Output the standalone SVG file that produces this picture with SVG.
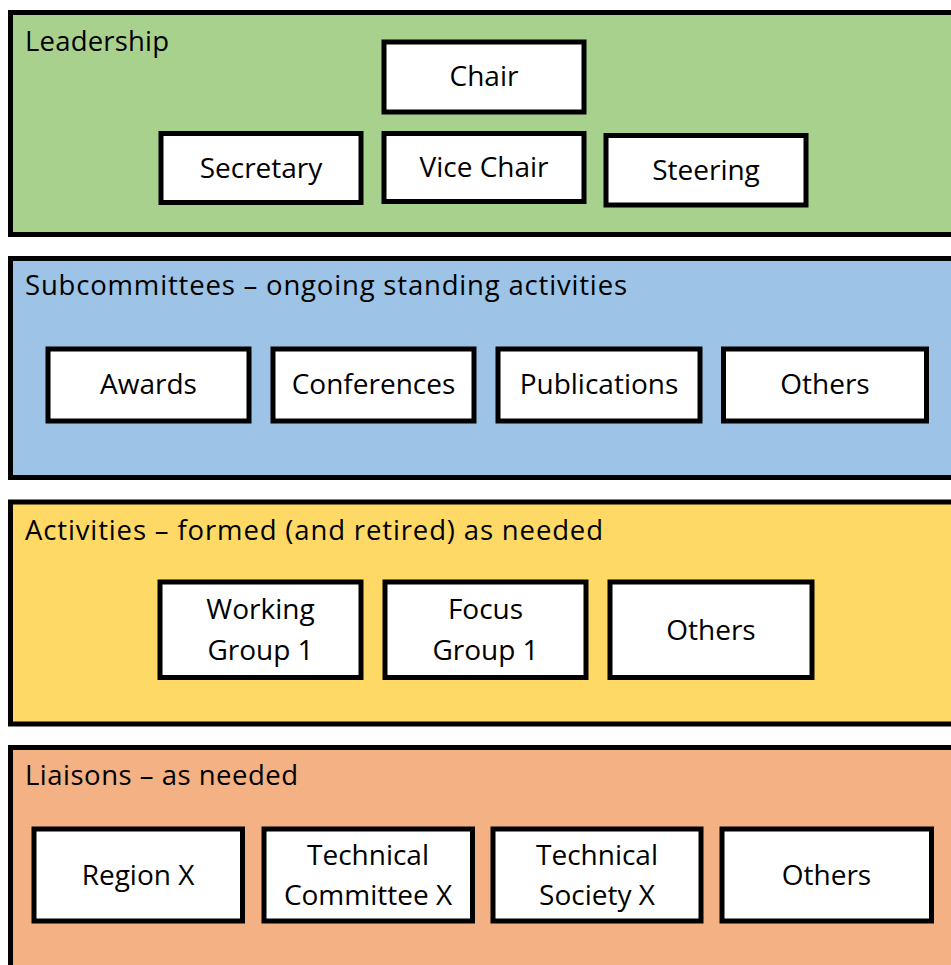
<svg xmlns="http://www.w3.org/2000/svg" width="951" height="965" viewBox="0 0 951 965">
  <style>
    .panel { stroke: #000; stroke-width: 5; }
    .box { fill: #fff; stroke: #000; stroke-width: 5; }
    text { font-family: "Open Sans", "Noto Sans", sans-serif; fill: #000; }
    .title { font-size: 27.5px; }
    .label { font-size: 28px; text-anchor: middle; }
  </style>
  <rect width="951" height="965" fill="#fff"/>

  <!-- Leadership -->
  <g id="leadership">
    <rect class="panel" x="10.5" y="12.5" width="960" height="222" fill="#A9D18E"/>
    <text class="title" x="25" y="51" textLength="144">Leadership</text>
  </g>
  <g id="chair">
    <rect class="box" x="384" y="42" width="200" height="70"/>
    <text class="label" x="484" y="86">Chair</text>
  </g>
  <g id="secretary">
    <rect class="box" x="161" y="133.5" width="200" height="69"/>
    <text class="label" x="261" y="177.5">Secretary</text>
  </g>
  <g id="vice-chair">
    <rect class="box" x="384" y="133.5" width="200" height="68"/>
    <text class="label" x="484" y="177">Vice Chair</text>
  </g>
  <g id="steering">
    <rect class="box" x="606" y="135.5" width="200" height="69.5"/>
    <text class="label" x="706" y="179.5">Steering</text>
  </g>

  <!-- Subcommittees -->
  <g id="subcommittees">
    <rect class="panel" x="10.5" y="258.5" width="960" height="219" fill="#9DC3E6"/>
    <text class="title" x="25" y="295" textLength="602">Subcommittees – ongoing standing activities</text>
  </g>
  <g id="awards">
    <rect class="box" x="48" y="349" width="201" height="72"/>
    <text class="label" x="148.5" y="394">Awards</text>
  </g>
  <g id="conferences">
    <rect class="box" x="273" y="349" width="201" height="72"/>
    <text class="label" x="373.5" y="394">Conferences</text>
  </g>
  <g id="publications">
    <rect class="box" x="498" y="349" width="202" height="72"/>
    <text class="label" x="599" y="394">Publications</text>
  </g>
  <g id="subcommittees-others">
    <rect class="box" x="723.5" y="349" width="203" height="72"/>
    <text class="label" x="825" y="394">Others</text>
  </g>

  <!-- Activities -->
  <g id="activities">
    <rect class="panel" x="10.5" y="502" width="960" height="222" fill="#FFD966"/>
    <text class="title" x="25" y="540" textLength="578">Activities – formed (and retired) as needed</text>
  </g>
  <g id="working-group">
    <rect class="box" x="160" y="582" width="201" height="95.5"/>
    <text class="label" x="260.5" y="618.5">Working</text>
    <text class="label" x="260.5" y="660">Group 1</text>
  </g>
  <g id="focus-group">
    <rect class="box" x="385" y="582" width="201" height="95.5"/>
    <text class="label" x="485.5" y="618.5">Focus</text>
    <text class="label" x="485.5" y="660">Group 1</text>
  </g>
  <g id="activities-others">
    <rect class="box" x="610" y="582" width="202" height="95.5"/>
    <text class="label" x="711" y="639.5">Others</text>
  </g>

  <!-- Liaisons -->
  <g id="liaisons">
    <rect class="panel" x="10.5" y="747.5" width="960" height="240" fill="#F4B183"/>
    <text class="title" x="25" y="784.5" textLength="273">Liaisons – as needed</text>
  </g>
  <g id="region-x">
    <rect class="box" x="34" y="829" width="208.5" height="92"/>
    <text class="label" x="138" y="885">Region X</text>
  </g>
  <g id="technical-committee-x">
    <rect class="box" x="264" y="829" width="208.5" height="92"/>
    <text class="label" x="368" y="865">Technical</text>
    <text class="label" x="368" y="905">Committee X</text>
  </g>
  <g id="technical-society-x">
    <rect class="box" x="493" y="829" width="208" height="92"/>
    <text class="label" x="597" y="865">Technical</text>
    <text class="label" x="597" y="905">Society X</text>
  </g>
  <g id="liaisons-others">
    <rect class="box" x="722" y="829" width="209.5" height="92"/>
    <text class="label" x="826.5" y="885">Others</text>
  </g>
</svg>
